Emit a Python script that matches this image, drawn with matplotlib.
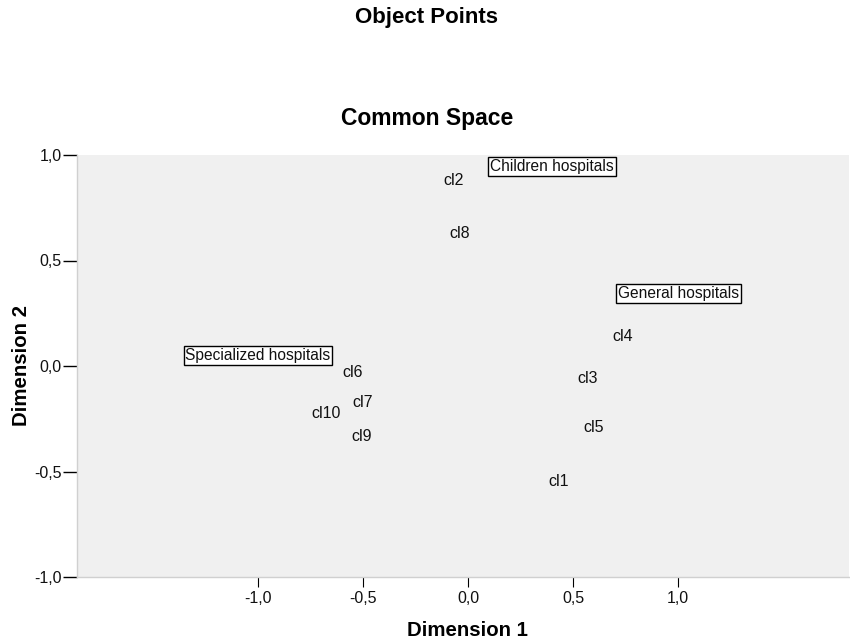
import matplotlib
matplotlib.use("Agg")
import matplotlib.pyplot as plt
from matplotlib.ticker import FuncFormatter

plt.rcParams['font.family'] = ['Liberation Sans', 'DejaVu Sans']

# Object points (label positions)
objects = ["cl1", "cl2", "cl3", "cl4", "cl5", "cl6", "cl7", "cl8", "cl9", "cl10"]
dim1 = [0.432, -0.068, 0.570, 0.737, 0.599, -0.549, -0.501, -0.040, -0.506, -0.678]
dim2 = [-0.546, 0.880, -0.058, 0.141, -0.290, -0.030, -0.172, 0.629, -0.333, -0.224]

# Group annotations
groups = ["Children hospitals", "General hospitals", "Specialized hospitals"]
group_x = [0.399, 1.002, -1.001]
group_y = [0.945, 0.344, 0.051]

ticks = [-1.0, -0.5, 0.0, 0.5, 1.0]

fig = plt.figure(figsize=(8.5, 6.41), dpi=100)
ax = fig.add_axes([77/850, (641-577)/641, (849-77)/850, (577-155)/641])
ax.set_facecolor('#f0f0f0')
ax.set_xlim(-1.863, 1.813)
ax.set_ylim(-1.0, 1.0)

for lab, x, y in zip(objects, dim1, dim2):
    ax.text(x, y, lab, ha='center', va='center', fontsize=11.5, color='#111111')

for lab, x, y in zip(groups, group_x, group_y):
    ax.text(x, y, lab, ha='center', va='center', fontsize=11.2, color='#111111',
            bbox=dict(boxstyle='square,pad=0.12', facecolor='white', edgecolor='black', linewidth=1))

ax.set_xticks(ticks)
ax.set_yticks(ticks)
fmt = FuncFormatter(lambda v, p: ("%.1f" % v).replace('.', ','))
ax.xaxis.set_major_formatter(fmt)
ax.yaxis.set_major_formatter(fmt)
ax.tick_params(axis='both', direction='out', labelsize=11.5, color='black', labelcolor='#111111')
ax.tick_params(axis='x', length=7, pad=3)
ax.tick_params(axis='y', length=10, width=1, pad=1)

for s in ['top', 'right']:
    ax.spines[s].set_visible(False)
for s in ['left', 'bottom']:
    ax.spines[s].set_color('#d0d0d0')
    ax.spines[s].set_linewidth(1)

ax.set_xlabel("Dimension 1", fontsize=14.7, fontweight='bold')
ax.xaxis.set_label_coords((467.5-77)/(849-77), -(630-577)/(577-155))
ax.xaxis.label.set_va('center')
ax.set_ylabel("Dimension 2", fontsize=14.7, fontweight='bold')
ax.yaxis.set_label_coords(-(77-22)/(849-77), (577-366)/(577-155))
ax.yaxis.label.set_va('center')
ax.yaxis.label.set_ha('center')

fig.text(426/850, 1-18/641, "Object Points", ha='center', va='center', fontsize=16, fontweight='bold')
fig.text(427/850, 1-119/641, "Common Space", ha='center', va='center', fontsize=16.5, fontweight='bold')

fig.savefig("out.png", dpi=100)
